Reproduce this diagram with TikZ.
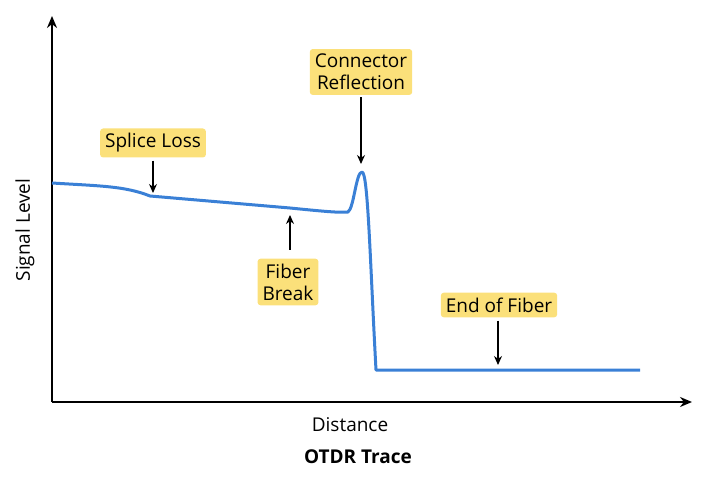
\documentclass[tikz,border=0pt]{standalone}
\usepackage{fontspec}
\setmainfont{Open Sans}
\usetikzlibrary{arrows.meta}
\definecolor{lab}{HTML}{FBE07A}
\definecolor{trace}{HTML}{3A80D6}
\begin{document}
\begin{tikzpicture}[x=1pt,y=-1pt,
  lbl/.style={fill=lab,rounded corners=3pt,align=center,font=\fontsize{19}{22}\selectfont,inner sep=5pt},
  arr/.style={-{Stealth[length=9pt,width=8pt]},line width=1.3pt},
  ax/.style={-{Stealth[length=12pt,width=10pt]},line width=2pt}]
\useasboundingbox (0,0) rectangle (720,478);
\coordinate (o) at (52,402);
\coordinate (ytop) at (52,16);
\coordinate (xend) at (692,402);
\draw[ax] (o) -- (ytop);
\draw[ax] (o) -- (xend);
\draw[trace,line width=3pt,line join=round] (52,183) .. controls (100,186) and (125,186) .. (150,196)
  -- (290,208) .. controls (320,211) and (340,213) .. (348,212)
  .. controls (354,208) and (356,172) .. (362,172)
  .. controls (368,172) and (370,260) .. (376,370) -- (640,370);
\node[lbl] (sl) at (153,143) {Splice Loss};
\node[lbl] (cr) at (361,72) {Connector\\Reflection};
\node[lbl] (fb) at (288,282) {Fiber\\Break};
\node[lbl] (ef) at (499,305) {End of Fiber};
\coordinate (slt) at (153,193);
\coordinate (crt) at (361,164);
\coordinate (fbt) at (290,215);
\coordinate (eft) at (498,365);
\draw[arr] (sl.south) ++(0,3) coordinate (a1) (a1) -- (slt);
\draw[arr] (cr.south) ++(0,2) coordinate (a2) (a2) -- (crt);
\draw[arr] (290,250) coordinate (a3) (a3) -- (fbt);
\draw[arr] (ef.south) ++(-1,3) coordinate (a4) (a4) -- (eft);
\node[rotate=90,font=\fontsize{19}{22}\selectfont] (yl) at (25,230) {Signal Level};
\node[font=\fontsize{19}{22}\selectfont] (xl) at (350,425) {Distance};
\node[font=\bfseries\fontsize{19}{22}\selectfont] (tt) at (358,457) {OTDR Trace};
\end{tikzpicture}
\end{document}
